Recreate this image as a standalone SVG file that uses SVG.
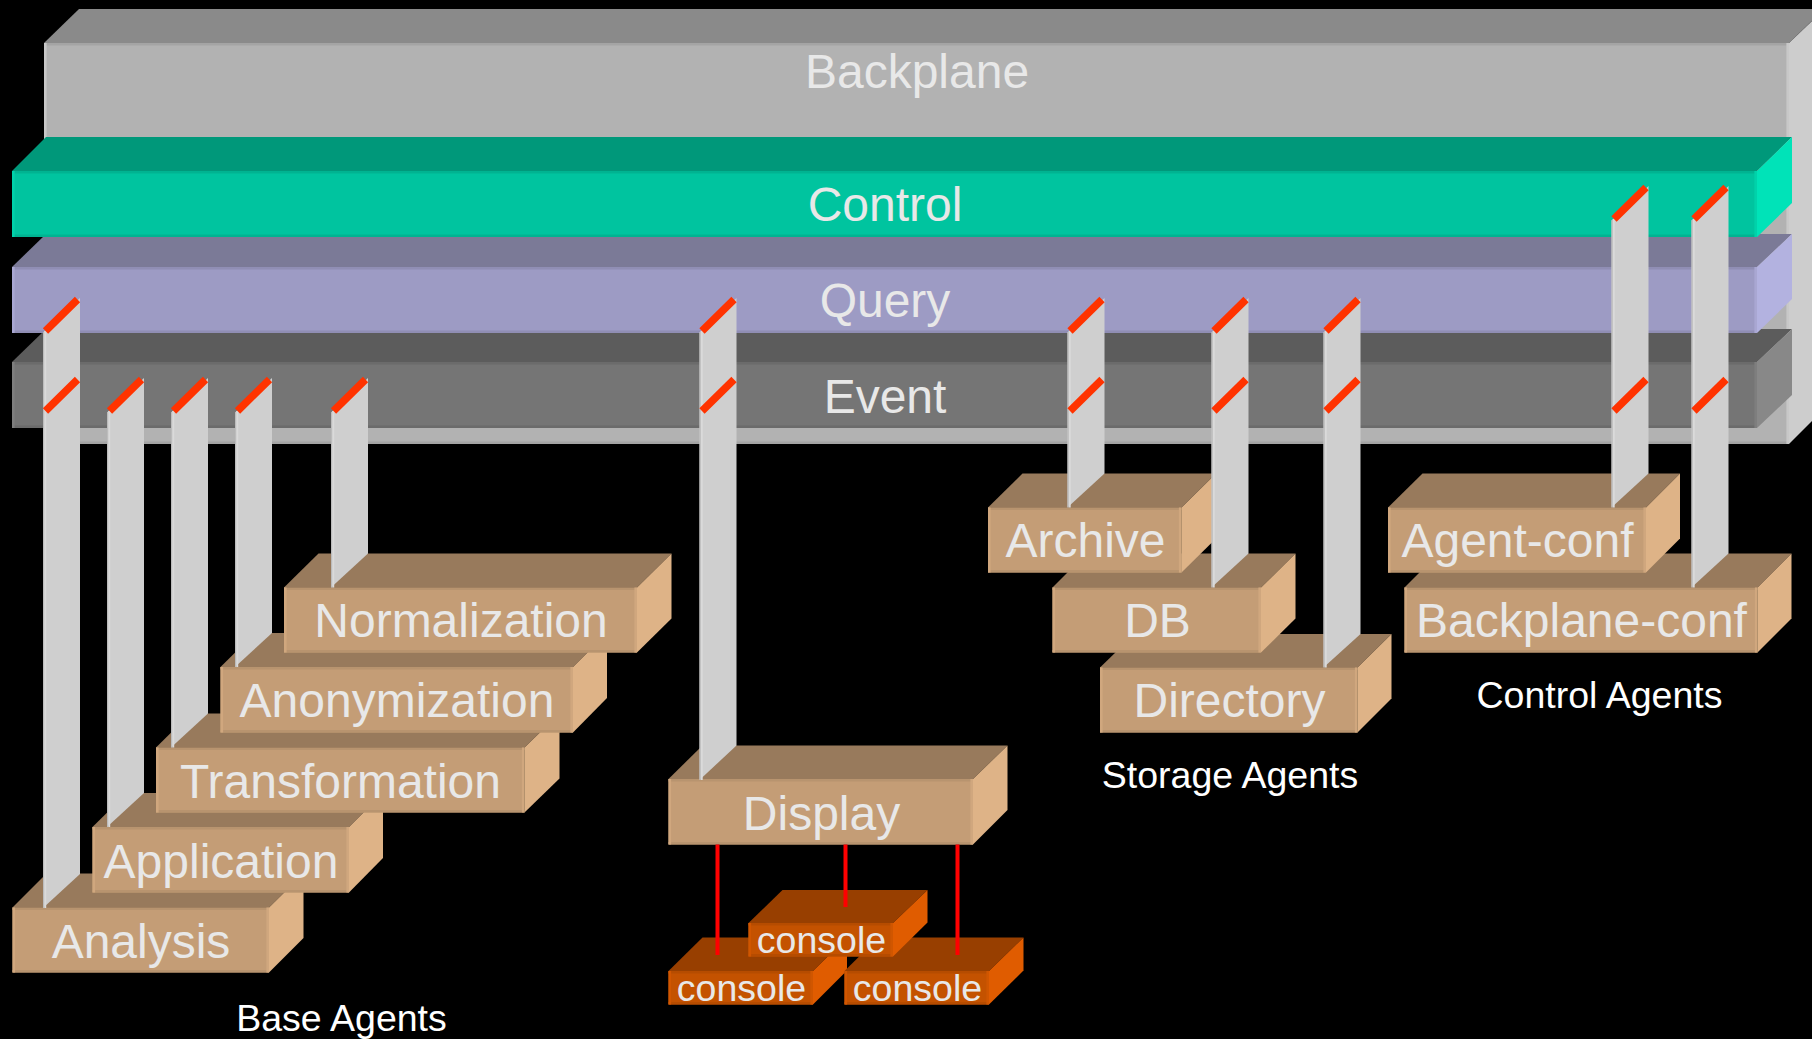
<svg xmlns="http://www.w3.org/2000/svg" width="1812" height="1039" viewBox="0 0 1812 1039">
<style>
text{font-family:"Liberation Sans",Arial,sans-serif;text-anchor:middle;fill:#e8e8e8;font-size:48px}
.sm{font-size:37.5px}
.cap{font-size:37.5px;fill:#fff}
path{fill:none}
.bd{stroke-width:2.6}
.post{fill:#cfcfcf}
.pl{stroke:#dadada;stroke-width:2}
.pe{stroke:#bcbcbc;stroke-width:1.2}
.st{stroke:#ff3300;stroke-width:7.5}
.wire{stroke:#ff0000;stroke-width:4}
.tanT{fill:#987a5c}.tanF{fill:#c49d76}.tanR{fill:#deb387}
.tan1{stroke:#b8946f}.tan2{stroke:#d0a77e}
.orT{fill:#983f00}.orF{fill:#c45200}.orR{fill:#e05c00}
.or1{stroke:#b64c00}.or2{stroke:#d05600}
</style>
<rect width="1812" height="1039" fill="#000"/>
<g id="backplane">
<polygon points="44,43 79,9 1824,9 1789,43" fill="#8a8a8a"/>
<polygon points="1789,43 1812,21 1812,421 1789,444" fill="#cdcdcd"/>
<rect x="44" y="43" width="1745" height="401" fill="#b2b2b2"/>
<path class="bd" stroke="#a4a4a4" d="M44 44.3H1789M44 442.7H1789"/>
<path class="bd" stroke="#c8c8c8" d="M45.3 43V444M1787.7 43V444"/>
<text x="917" y="88">Backplane</text>
</g>
<g id="event">
<polygon points="12,362 46,329 1792,329 1757,362" fill="#5c5c5c"/>
<polygon points="1757,362 1792,329 1792,395 1757,428" fill="#888888"/>
<rect x="12" y="362" width="1745" height="66" fill="#757575"/>
<path class="bd" stroke="#6b6b6b" d="M12 363.3H1757M12 426.7H1757"/>
<path class="bd" stroke="#7e7e7e" d="M13.3 362V428M1755.7 362V428"/>
<text x="885" y="413">Event</text>
</g>
<g id="query">
<polygon points="12,267 46,234 1792,234 1757,267" fill="#7b7a97"/>
<polygon points="1757,267 1792,234 1792,299 1757,333" fill="#b3b2e0"/>
<rect x="12" y="267" width="1745" height="66" fill="#9d9bc4"/>
<path class="bd" stroke="#908eb4" d="M12 268.3H1757M12 331.7H1757"/>
<path class="bd" stroke="#a9a7d2" d="M13.3 267V333M1755.7 267V333"/>
<text x="885" y="317">Query</text>
</g>
<g id="control">
<polygon points="12,171 46,137 1792,137 1757,171" fill="#00987a"/>
<polygon points="1757,171 1792,137 1792,203 1757,237" fill="#00e3b8"/>
<rect x="12" y="171" width="1745" height="66" fill="#00c49f"/>
<path class="bd" stroke="#00b391" d="M12 172.3H1757M12 235.7H1757"/>
<path class="bd" stroke="#00d2aa" d="M13.3 171V237M1755.7 171V237"/>
<text x="885" y="221">Control</text>
</g>
<g id="analysis">
<polygon class="tanT" points="12.5,907.500 46.5,873.500 303.5,873.500 269,907.500"/>
<polygon class="tanR" points="269,907.500 303.5,873.500 303.5,938 269,972.500"/>
<rect class="tanF" x="12.5" y="907.500" width="256.500" height="65"/>
<path class="bd tan1" d="M12.5 908.800H269M12.5 971.200H269"/>
<path class="bd tan2" d="M13.800 907.500V972.500M267.700 907.500V972.500"/>
<text x="141" y="958">Analysis</text>
</g>
<g id="application">
<polygon class="tanT" points="92.500,827 127,793 383,793 349,827"/>
<polygon class="tanR" points="349,827 383,793 383,858 349,892.500"/>
<rect class="tanF" x="92.500" y="827" width="256.500" height="65.500"/>
<path class="bd tan1" d="M92.500 828.300H349M92.500 891.200H349"/>
<path class="bd tan2" d="M93.800 827V892.500M347.700 827V892.500"/>
<text x="221" y="878">Application</text>
</g>
<g id="transformation">
<polygon class="tanT" points="156,747.500 190.500,713.500 559.500,713.500 524.500,747.500"/>
<polygon class="tanR" points="524.500,747.500 559.500,713.500 559.500,778.500 524.500,812.500"/>
<rect class="tanF" x="156" y="747.500" width="368.500" height="65"/>
<path class="bd tan1" d="M156 748.800H524.500M156 811.200H524.500"/>
<path class="bd tan2" d="M157.300 747.500V812.500M523.200 747.500V812.500"/>
<text x="340.500" y="798">Transformation</text>
</g>
<g id="anonymization">
<polygon class="tanT" points="220.500,667 255,633 607,633 573,667"/>
<polygon class="tanR" points="573,667 607,633 607,698 573,732.500"/>
<rect class="tanF" x="220.500" y="667" width="352.500" height="65.500"/>
<path class="bd tan1" d="M220.500 668.300H573M220.500 731.200H573"/>
<path class="bd tan2" d="M221.800 667V732.500M571.700 667V732.500"/>
<text x="397" y="717">Anonymization</text>
</g>
<g id="normalization">
<polygon class="tanT" points="284,587.500 318.500,553.500 671.500,553.500 637,587.500"/>
<polygon class="tanR" points="637,587.500 671.500,553.500 671.500,618.500 637,652.500"/>
<rect class="tanF" x="284" y="587.500" width="353" height="65"/>
<path class="bd tan1" d="M284 588.800H637M284 651.200H637"/>
<path class="bd tan2" d="M285.300 587.500V652.500M635.700 587.500V652.500"/>
<text x="461" y="637">Normalization</text>
</g>
<g id="display">
<polygon class="tanT" points="668.500,779 702.500,745.500 1007.500,745.500 973,779"/>
<polygon class="tanR" points="973,779 1007.500,745.500 1007.500,810 973,844.500"/>
<rect class="tanF" x="668.500" y="779" width="304.500" height="65.500"/>
<path class="bd tan1" d="M668.500 780.300H973M668.500 843.200H973"/>
<path class="bd tan2" d="M669.800 779V844.500M971.700 779V844.500"/>
<text x="821.500" y="830">Display</text>
</g>
<g id="console-left">
<polygon class="orT" points="668.500,971 702.500,937.500 847,937.500 813,971"/>
<polygon class="orR" points="813,971 847,937.500 847,970.500 813,1004.500"/>
<rect class="orF" x="668.500" y="971" width="144.500" height="33.500"/>
<path class="bd or1" d="M668.500 972.300H813M668.500 1003.200H813"/>
<path class="bd or2" d="M669.800 971V1004.500M811.700 971V1004.500"/>
<text class="sm" x="741.500" y="1001">console</text>
</g>
<g id="console-right">
<polygon class="orT" points="844.500,971 878.500,937.500 1023.500,937.500 989,971"/>
<polygon class="orR" points="989,971 1023.500,937.500 1023.500,970.500 989,1004.500"/>
<rect class="orF" x="844.500" y="971" width="144.500" height="33.500"/>
<path class="bd or1" d="M844.500 972.300H989M844.500 1003.200H989"/>
<path class="bd or2" d="M845.800 971V1004.500M987.700 971V1004.500"/>
<text class="sm" x="917.500" y="1001">console</text>
</g>
<g id="console-middle">
<polygon class="orT" points="748.500,923 782.500,890 927.500,890 893,923"/>
<polygon class="orR" points="893,923 927.500,890 927.500,922.500 893,956.500"/>
<rect class="orF" x="748.500" y="923" width="144.500" height="33.500"/>
<path class="bd or1" d="M748.500 924.300H893M748.500 955.200H893"/>
<path class="bd or2" d="M749.800 923V956.500M891.700 923V956.500"/>
<text class="sm" x="821.500" y="952.500">console</text>
</g>
<g id="directory">
<polygon class="tanT" points="1100,667.500 1134.500,634 1391.500,634 1357.500,667.500"/>
<polygon class="tanR" points="1357.500,667.500 1391.500,634 1391.500,698.500 1357.500,732.500"/>
<rect class="tanF" x="1100" y="667.500" width="257.500" height="65"/>
<path class="bd tan1" d="M1100 668.800H1357.500M1100 731.200H1357.500"/>
<path class="bd tan2" d="M1101.300 667.500V732.500M1356.200 667.500V732.500"/>
<text x="1229.500" y="717">Directory</text>
</g>
<g id="db">
<polygon class="tanT" points="1052.500,587.500 1086.500,553.500 1295.500,553.500 1261,587.500"/>
<polygon class="tanR" points="1261,587.500 1295.500,553.500 1295.500,618.500 1261,652.500"/>
<rect class="tanF" x="1052.500" y="587.500" width="208.500" height="65"/>
<path class="bd tan1" d="M1052.500 588.800H1261M1052.500 651.200H1261"/>
<path class="bd tan2" d="M1053.800 587.500V652.500M1259.700 587.500V652.500"/>
<text x="1157.500" y="637">DB</text>
</g>
<g id="archive">
<polygon class="tanT" points="988,507.500 1022.500,473.500 1216,473.500 1181.500,507.500"/>
<polygon class="tanR" points="1181.500,507.500 1216,473.500 1216,538.500 1181.500,572.500"/>
<rect class="tanF" x="988" y="507.500" width="193.500" height="65"/>
<path class="bd tan1" d="M988 508.800H1181.500M988 571.200H1181.500"/>
<path class="bd tan2" d="M989.300 507.500V572.500M1180.200 507.500V572.500"/>
<text x="1085.500" y="556.500">Archive</text>
</g>
<g id="backplane-conf">
<polygon class="tanT" points="1404.500,587.500 1438.500,553.500 1791.500,553.500 1757.500,587.500"/>
<polygon class="tanR" points="1757.500,587.500 1791.500,553.500 1791.500,618.500 1757.500,652.500"/>
<rect class="tanF" x="1404.500" y="587.500" width="353" height="65"/>
<path class="bd tan1" d="M1404.500 588.800H1757.500M1404.500 651.200H1757.500"/>
<path class="bd tan2" d="M1405.800 587.500V652.500M1756.200 587.500V652.500"/>
<text x="1581.500" y="637">Backplane-conf</text>
</g>
<g id="agent-conf">
<polygon class="tanT" points="1388,507.500 1422.500,473.500 1680,473.500 1646,507.500"/>
<polygon class="tanR" points="1646,507.500 1680,473.500 1680,538.500 1646,572.500"/>
<rect class="tanF" x="1388" y="507.500" width="258" height="65"/>
<path class="bd tan1" d="M1388 508.800H1646M1388 571.200H1646"/>
<path class="bd tan2" d="M1389.300 507.500V572.500M1644.700 507.500V572.500"/>
<text x="1517.500" y="556.500">Agent-conf</text>
</g>
<g id="connectors">
<polygon class="post" points="43,332.500 80,298 80,874 43,908"/><path class="pl" d="M45.200 331V908"/><path class="pe" d="M43.600 332V908"/>
<polygon class="post" points="107,412.500 144,378 144,793 107,827"/><path class="pl" d="M109.200 411V827"/><path class="pe" d="M107.600 412V827"/>
<polygon class="post" points="171,412.500 208,378 208,713.500 171,747.500"/><path class="pl" d="M173.200 411V747.500"/><path class="pe" d="M171.600 412V747.500"/>
<polygon class="post" points="235,412.500 272,378 272,633 235,667"/><path class="pl" d="M237.200 411V667"/><path class="pe" d="M235.600 412V667"/>
<polygon class="post" points="331,412.500 368,378 368,553.500 331,587.500"/><path class="pl" d="M333.200 411V587.500"/><path class="pe" d="M331.600 412V587.500"/>
<polygon class="post" points="699.500,332.500 736.500,298 736.500,745.500 699.500,780"/><path class="pl" d="M701.700 331V780"/><path class="pe" d="M700.100 332V780"/>
<polygon class="post" points="1067.500,332.500 1104.500,298 1104.500,473.500 1067.500,507.500"/><path class="pl" d="M1069.700 331V507.500"/><path class="pe" d="M1068.100 332V507.500"/>
<polygon class="post" points="1211.500,332.500 1248.500,298 1248.500,553.500 1211.500,587.500"/><path class="pl" d="M1213.700 331V587.500"/><path class="pe" d="M1212.100 332V587.500"/>
<polygon class="post" points="1323.500,332.500 1360.500,298 1360.500,634 1323.500,667.500"/><path class="pl" d="M1325.700 331V667.500"/><path class="pe" d="M1324.100 332V667.500"/>
<polygon class="post" points="1611.500,220.500 1648.500,186 1648.500,473.500 1611.500,507.500"/><path class="pl" d="M1613.700 219V507.500"/><path class="pe" d="M1612.100 220V507.500"/>
<polygon class="post" points="1691.500,220.500 1728.500,186 1728.500,553.500 1691.500,587.500"/><path class="pl" d="M1693.700 219V587.500"/><path class="pe" d="M1692.100 220V587.500"/>
<path class="st" d="M45.500 331L77.500 299.500M45.500 411L77.500 379.500M109.500 411L141.500 379.500M173.500 411L205.500 379.500M237.500 411L269.500 379.500M333.500 411L365.500 379.500M702 331L734 299.500M702 411L734 379.500M1070 331L1102 299.500M1070 411L1102 379.500M1214 331L1246 299.500M1214 411L1246 379.500M1326 331L1358 299.500M1326 411L1358 379.500M1614 219L1646 187.500M1614 411L1646 379.500M1694 219L1726 187.500M1694 411L1726 379.500"/>
<path class="wire" d="M717.500 844.500V955M845.500 844.500V907M957.500 844.500V955"/>
</g>
<text class="cap" x="341.500" y="1031">Base Agents</text>
<text class="cap" x="1230" y="788">Storage Agents</text>
<text class="cap" x="1599.500" y="707.500">Control Agents</text>
</svg>
